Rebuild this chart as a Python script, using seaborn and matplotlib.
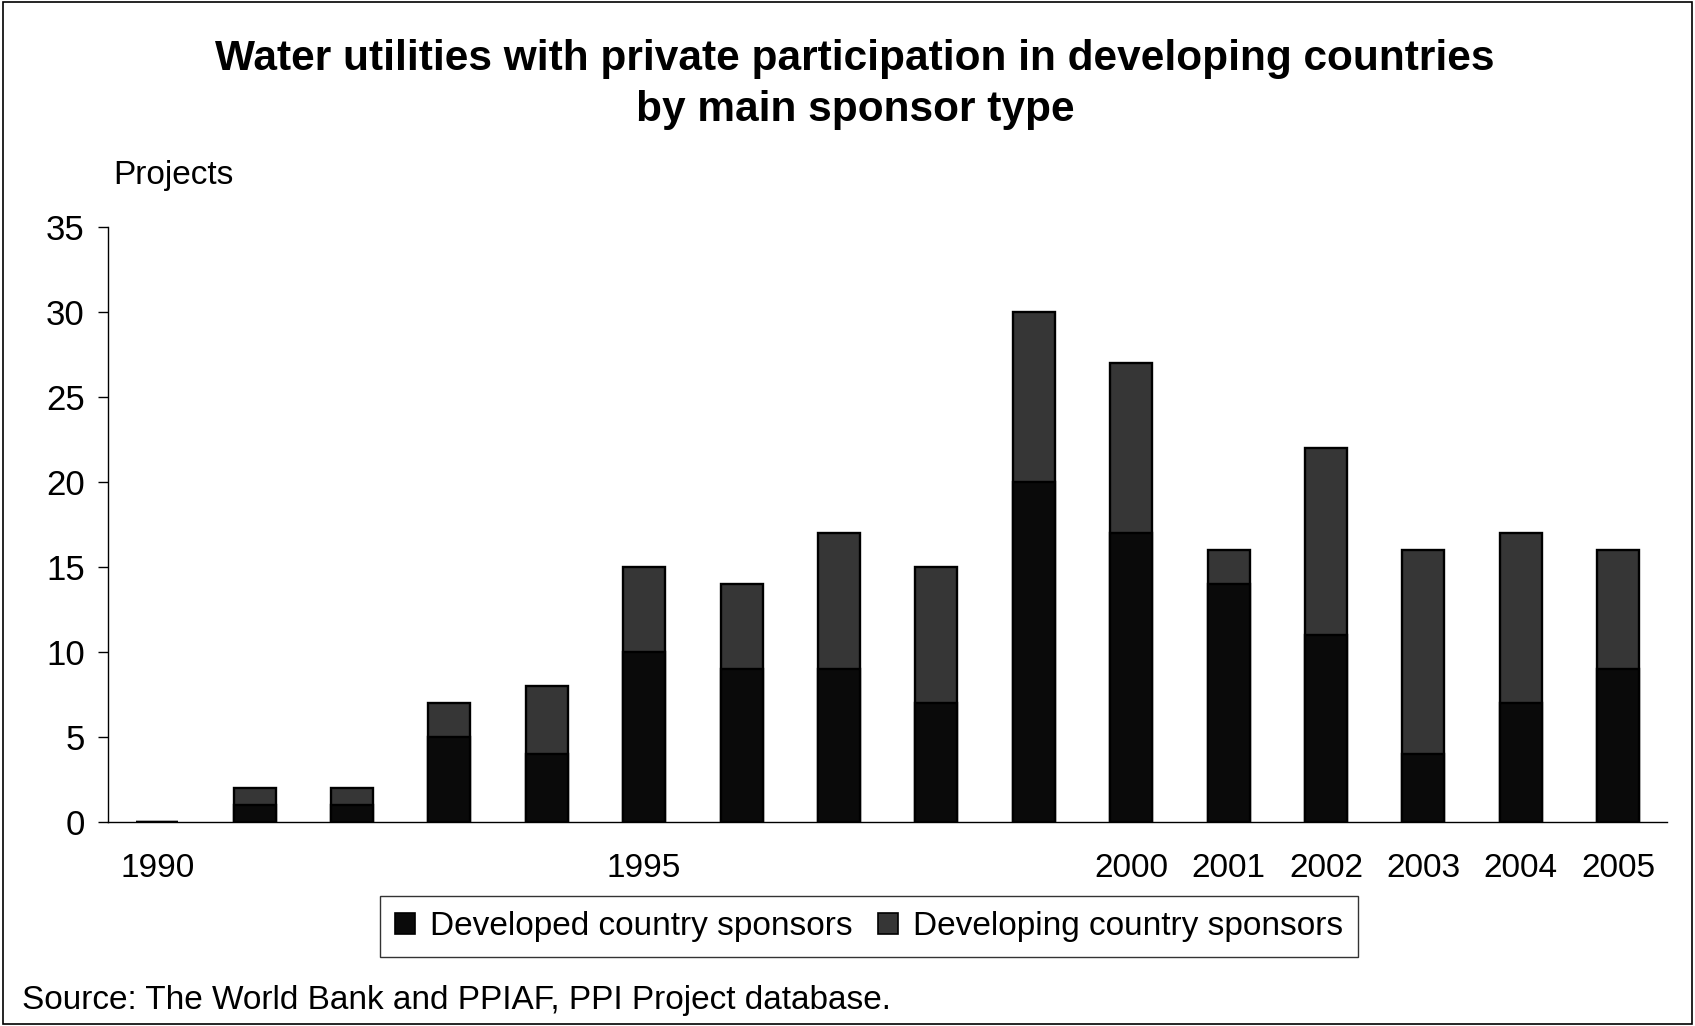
import matplotlib
matplotlib.use("Agg")
import matplotlib.pyplot as plt
from matplotlib.patches import Rectangle, Patch
import seaborn as sns
import pandas as pd

years = [str(y) for y in range(1990, 2006)]
developed = [0, 1, 1, 5, 4, 10, 9, 9, 7, 20, 17, 14, 11, 4, 7, 9]
developing = [0, 1, 1, 2, 4, 5, 5, 8, 8, 10, 10, 2, 11, 12, 10, 7]
year_labels = ["1990", "", "", "", "", "1995", "", "", "", "",
               "2000", "2001", "2002", "2003", "2004", "2005"]

series_names = ["Developed country sponsors", "Developing country sponsors"]
c_developed = "#0a0a0a"
c_developing = "#363636"

sns.set_style("ticks")
plt.rcParams["font.family"] = ["Liberation Sans", "DejaVu Sans"]
for key in ["text.color", "axes.labelcolor", "xtick.color", "ytick.color", "axes.edgecolor"]:
    plt.rcParams[key] = "black"

df = pd.DataFrame({
    "year": years,
    "developed": developed,
    "developing": developing,
})
df["total"] = df["developed"] + df["developing"]

fig = plt.figure(figsize=(16.95, 10.26), dpi=100)
ax = fig.add_axes([0.0640, 0.1988, 0.9194, 0.58])

# stacked bars: full stack in the lighter shade, developed share drawn over it
sns.barplot(data=df, x="year", y="total", color=c_developing, saturation=1,
            width=0.43, edgecolor="black", linewidth=1.7, ax=ax)
sns.barplot(data=df, x="year", y="developed", color=c_developed, saturation=1,
            width=0.43, edgecolor="black", linewidth=1.7, ax=ax)

ax.set_ylim(0, 35)
ax.set_xlim(-0.5, len(years) - 0.5)
ax.set_yticks(range(0, 36, 5))
ax.set_xticks(range(len(years)))
ax.set_xticklabels(year_labels)
ax.tick_params(axis="x", length=0, labelsize=24, pad=22)
ax.tick_params(axis="y", length=7, width=1, labelsize=25, pad=10, direction="out")
ax.set_xlabel("")
ax.set_ylabel("")
for side in ["top", "right"]:
    ax.spines[side].set_visible(False)
for side in ["left", "bottom"]:
    ax.spines[side].set_linewidth(1)
    ax.spines[side].set_color("black")

fig.text(0.5044, 0.9425, "Water utilities with private participation in developing countries",
         ha="center", va="center", fontsize=30.5, fontweight="bold")
fig.text(0.5044, 0.893, "by main sponsor type",
         ha="center", va="center", fontsize=30.5, fontweight="bold")
fig.text(0.0667, 0.8285, "Projects", ha="left", va="center", fontsize=24)
fig.text(0.013, 0.0244, "Source: The World Bank and PPIAF, PPI Project database.",
         ha="left", va="center", fontsize=24)

handles = [Patch(facecolor=c_developed, edgecolor="black", linewidth=1.2),
           Patch(facecolor=c_developing, edgecolor="black", linewidth=1.2)]
leg = fig.legend(handles, series_names, loc="center", bbox_to_anchor=(0.5127, 0.0965),
                 ncol=2, fontsize=24, frameon=True, fancybox=False,
                 handlelength=0.6, handleheight=0.6, handletextpad=0.45,
                 columnspacing=0.75, borderpad=0.45, borderaxespad=0)
leg.get_frame().set_edgecolor("black")
leg.get_frame().set_linewidth(1)

fig.patches.append(Rectangle((0.0015, 0.002), 0.997, 0.996, transform=fig.transFigure,
                             fill=False, edgecolor="black", linewidth=1.2))

fig.savefig("out.png", dpi=100, facecolor="white")
